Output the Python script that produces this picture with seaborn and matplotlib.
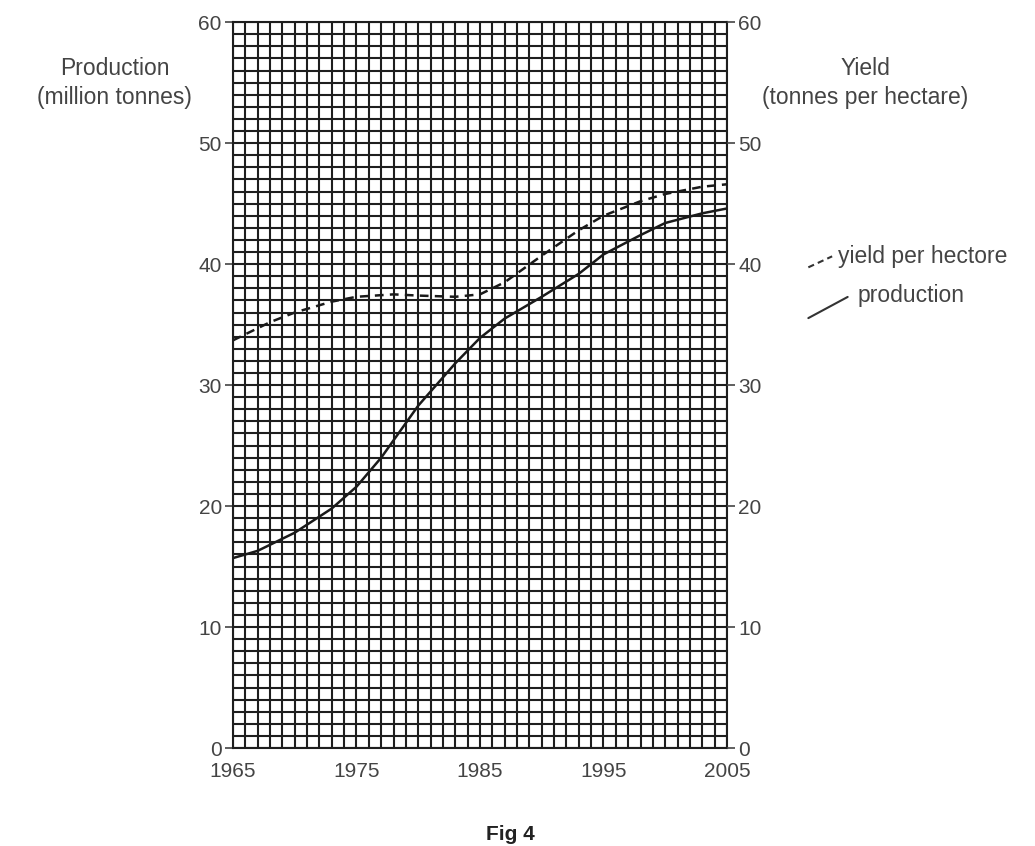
import matplotlib
matplotlib.use("Agg")
import matplotlib.pyplot as plt
import seaborn as sns
import pandas as pd
from matplotlib.lines import Line2D
from matplotlib.ticker import MultipleLocator

sns.set_style("white")
plt.rcParams["font.family"] = ["Liberation Sans", "DejaVu Sans"]

# ── Data ──────────────────────────────────────────────────────
years_prod = [1965, 1967, 1970, 1973, 1975, 1977, 1980, 1983, 1985,
              1987, 1990, 1993, 1995, 1998, 2000, 2003, 2005]
production = [15.7, 16.3, 17.8, 19.8, 21.6, 24.0, 28.3, 31.8, 33.9,
              35.5, 37.3, 39.2, 40.8, 42.4, 43.4, 44.2, 44.6]

years_yield = [1965, 1968, 1970, 1973, 1975, 1978, 1980, 1983, 1985,
               1987, 1990, 1993, 1995, 1998, 2000, 2003, 2005]
yield_ha = [33.7, 35.2, 36.0, 36.9, 37.3, 37.5, 37.4, 37.3, 37.5,
            38.5, 40.7, 42.8, 44.0, 45.2, 45.8, 46.4, 46.6]

x_ticks = [1965, 1975, 1985, 1995, 2005]
y_ticks = [0, 10, 20, 30, 40, 50, 60]

df_prod = pd.DataFrame({"year": years_prod, "value": production})
df_yield = pd.DataFrame({"year": years_yield, "value": yield_ha})

# ── Figure ────────────────────────────────────────────────────
fig = plt.figure(figsize=(10.35, 8.46), dpi=100)
ax = fig.add_axes([0.2251, 0.1158, 0.4773, 0.858])

ax.set_xlim(1965, 2005)
ax.set_ylim(0, 60)
ax.xaxis.set_minor_locator(MultipleLocator(1))
ax.yaxis.set_minor_locator(MultipleLocator(1))
ax.set_xticks(x_ticks)
ax.set_yticks(y_ticks)
ax.grid(which="both", color="#1e1e1e", lw=1.5)
ax.set_axisbelow(True)

sns.lineplot(data=df_yield, x="year", y="value", ax=ax, color="#1a1a1a",
             lw=1.8, linestyle=(0, (3.5, 2.5)), zorder=5)
sns.lineplot(data=df_prod, x="year", y="value", ax=ax, color="#1a1a1a",
             lw=1.8, zorder=5)

for s in ax.spines.values():
    s.set_color("#1e1e1e")
    s.set_linewidth(1.5)

tick_kw = dict(labelsize=15, labelcolor="#444444", color="#444444",
               length=6, width=1.2)
ax.tick_params(axis="both", which="major", direction="out", **tick_kw)
ax.tick_params(axis="both", which="minor", length=0)
ax.tick_params(axis="x", pad=4)
ax.tick_params(axis="y", pad=2)
ax.set_xlabel("")
ax.set_ylabel("")

ax2 = ax.twinx()
ax2.set_ylim(0, 60)
ax2.set_yticks(y_ticks)
ax2.tick_params(axis="y", direction="out", pad=2, **tick_kw)
for s in ax2.spines.values():
    s.set_visible(False)

# axis titles
fig.text(0.111, 0.902, "Production\n(million tonnes)", ha="center",
         va="center", fontsize=16.5, color="#444444", linespacing=1.35)
fig.text(0.836, 0.902, "Yield\n(tonnes per hectare)", ha="center",
         va="center", fontsize=16.5, color="#444444", linespacing=1.35)

# hand-drawn key
fig.add_artist(Line2D([0.781, 0.804], [0.684, 0.697], transform=fig.transFigure,
                      color="#333333", lw=1.5, linestyle=(0, (3, 2))))
fig.text(0.810, 0.697, "yield per hectore", ha="left", va="center",
         fontsize=16.5, color="#444444")
fig.add_artist(Line2D([0.781, 0.819], [0.624, 0.649], transform=fig.transFigure,
                      color="#333333", lw=1.5))
fig.text(0.829, 0.651, "production", ha="left", va="center",
         fontsize=16.5, color="#444444")

fig.text(0.493, 0.002, "Fig 4", ha="center", va="bottom", fontsize=15,
         fontweight="bold", color="#222222")

fig.savefig("out.png", dpi=100, facecolor="white")
